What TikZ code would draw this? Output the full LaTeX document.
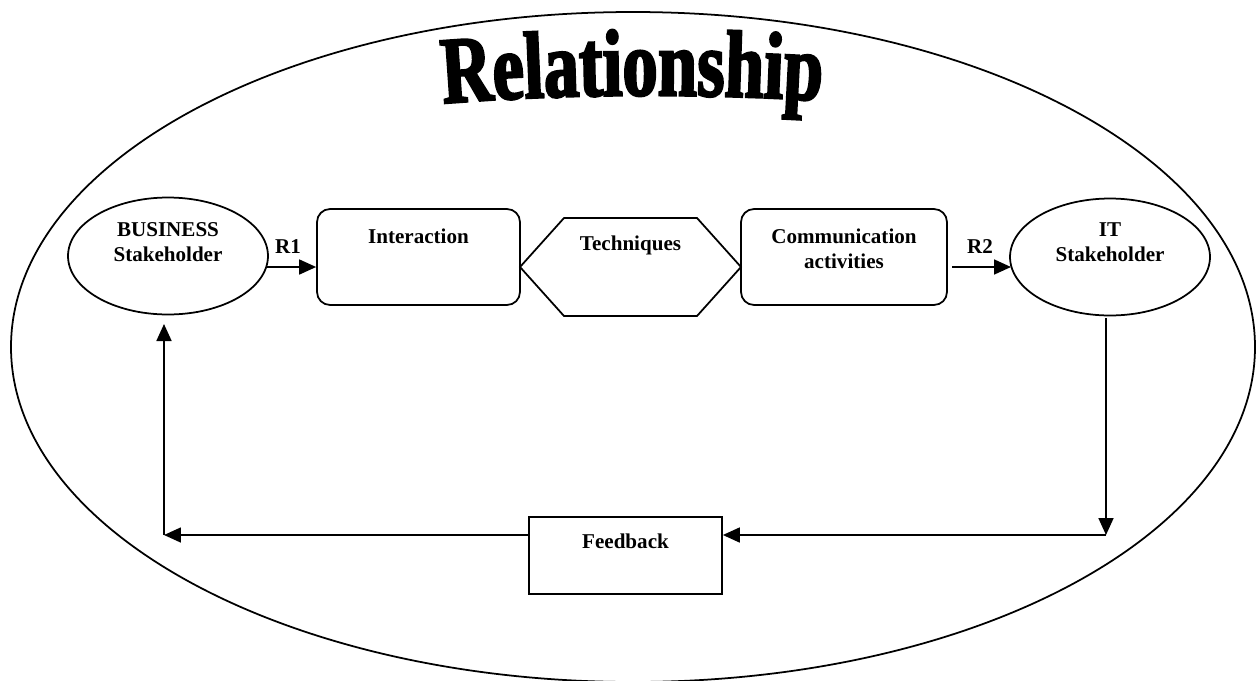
\documentclass[tikz,border=0pt]{standalone}
\usepackage{fontspec}
\setmainfont{Liberation Serif}
\newfontfamily\titlefont{Liberation Serif}[FakeStretch=0.74,BoldFeatures={FakeBold=2.5}]
\usetikzlibrary{shapes.geometric,arrows.meta,positioning,calc,decorations.text}
\tikzstyle{holder} = [draw, shape=ellipse, line width=1pt, minimum width=4cm, minimum height=2.34cm]
\tikzstyle{stage} = [draw, shape=rectangle, rounded corners=.26cm, line width=1pt, minimum width=4.06cm, minimum height=1.92cm]
\tikzstyle{word} = [font=\bfseries\fontsize{12pt}{14pt}\selectfont, inner sep=0pt, anchor=base]
\tikzstyle{Arrow} = [-{Triangle[length=.34cm,width=.3cm]}, line width=1pt]

\begin{document}
\begin{tikzpicture}[x=.02cm, y=-.02cm]
            \useasboundingbox (0,0) rectangle (1258,680);
            %%%%% Outer ring and title %%%%%
            \draw[line width=1pt] (633,347) ellipse [x radius=622, y radius=335];
            \path[decorate, decoration={text along path, text align=center,
                text={|\titlefont\bfseries\fontsize{54pt}{58pt}\selectfont|Relationship}}]
                (435,104) .. controls (565,93) and (700,93) .. (830,101);
            %%%%% Stakeholders %%%%%
            \node (B) [holder] at (168,256) {};
            \node (B1) [word] at (168,236) {BUSINESS};
            \node (B2) [word] at (168,261) {Stakeholder};
            \node (S) [holder] at (1110,257) {};
            \node (S1) [word] at (1110,236) {IT};
            \node (S2) [word] at (1110,261) {Stakeholder};
            %%%%% Middle row %%%%%
            \node (I) [stage] at (418.5,257) {};
            \node (I1) [word] at (418.5,243) {Interaction};
            \coordinate (Tw) at (520,267);
            \coordinate (Te) at (741,267);
            \draw[line width=1pt] (Tw) -- (564,218) -- (697,218) -- (Te) -- (697,316) -- (564,316) -- cycle;
            \node (T1) [word] at (630.5,250) {Techniques};
            \node (C) [stage, minimum width=4.12cm] at (844,257) {};
            \node (C1) [word] at (844,243) {Communication};
            \node (C2) [word] at (844,268) {activities};
            %%%%% Links %%%%%
            \coordinate (P) at (267,267);
            \draw [Arrow] (P) -- (P -| I.west);
            \node (R1) [word] at (288,253) {R1};
            \coordinate (Q) at (952,267);
            \draw [Arrow] (Q) -- (1011,267);
            \node (R2) [word] at (980,253) {R2};
            %%%%% Feedback loop %%%%%
            \node (F) [draw, rectangle, line width=1pt, minimum width=3.86cm, minimum height=1.54cm] at (625.5,555.5) {};
            \node (F1) [word] at (625.5,548) {Feedback};
            \coordinate (Rt) at (1106,535);
            \coordinate (Lt) at (164,535);
            \draw [Arrow] (1106,318) -- (Rt);
            \draw [Arrow] (Rt) -- (Rt -| F.east);
            \draw [Arrow] (F.west |- Lt) -- (Lt);
            \draw [Arrow] (Lt) -- (164,324);
        \end{tikzpicture}
\end{document}
